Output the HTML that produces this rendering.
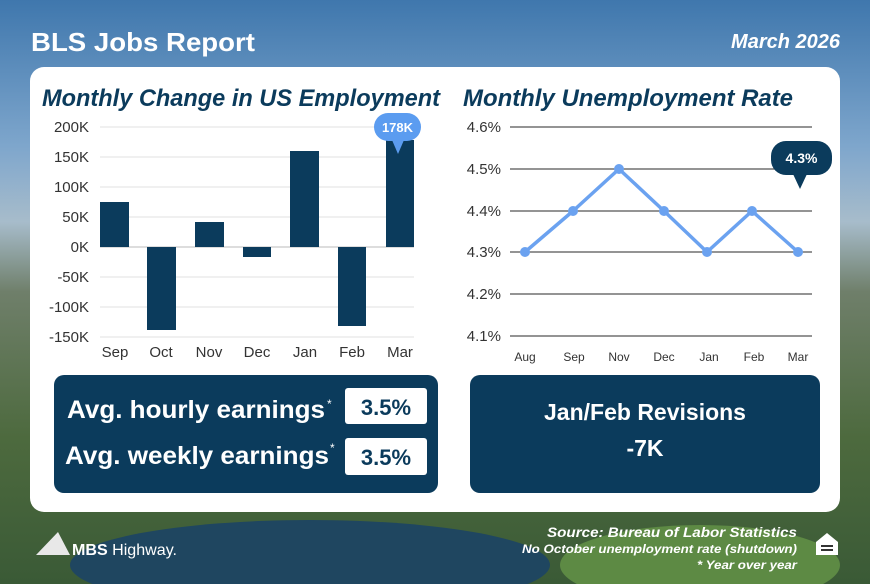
<!DOCTYPE html>
<html><head><meta charset="utf-8"><style>
html,body{margin:0;padding:0;width:870px;height:584px;overflow:hidden}
svg{display:block}
text{font-family:"Liberation Sans",sans-serif}
</style></head><body>
<svg width="870" height="584" viewBox="0 0 870 584" xmlns="http://www.w3.org/2000/svg">
<defs>
<linearGradient id="bg" x1="0" y1="0" x2="0" y2="1">
<stop offset="0" stop-color="#3f77ad"/>
<stop offset="0.25" stop-color="#7ea6cc"/>
<stop offset="0.38" stop-color="#a7bccb"/>
<stop offset="0.5" stop-color="#6f7f6a"/>
<stop offset="0.75" stop-color="#4d6a3e"/>
<stop offset="1" stop-color="#3a5a36"/>
</linearGradient>
</defs>
<rect width="870" height="584" fill="url(#bg)"/>
<ellipse cx="310" cy="565" rx="240" ry="45" fill="#1f4660"/>
<ellipse cx="700" cy="565" rx="140" ry="40" fill="#5d8a44"/>
<text x="31" y="51" font-size="26" font-weight="bold" fill="#fff" textLength="224" lengthAdjust="spacingAndGlyphs">BLS Jobs Report</text>
<text x="840" y="48" font-size="20" font-weight="bold" font-style="italic" fill="#fff" text-anchor="end">March 2026</text>
<rect x="30" y="67" width="810" height="445" rx="14" fill="#fff"/>
<text x="42" y="106" font-size="24" font-weight="bold" font-style="italic" fill="#0b3b5c" textLength="398" lengthAdjust="spacingAndGlyphs">Monthly Change in US Employment</text>
<text x="463" y="106" font-size="24" font-weight="bold" font-style="italic" fill="#0b3b5c" textLength="330" lengthAdjust="spacingAndGlyphs">Monthly Unemployment Rate</text>
<g stroke="#e2e2e2" stroke-width="1">
<line x1="100" y1="127" x2="414" y2="127"/><line x1="100" y1="157" x2="414" y2="157"/><line x1="100" y1="187" x2="414" y2="187"/><line x1="100" y1="217" x2="414" y2="217"/><line x1="100" y1="277" x2="414" y2="277"/><line x1="100" y1="307" x2="414" y2="307"/><line x1="100" y1="337" x2="414" y2="337"/>
</g>
<line x1="100" y1="247" x2="414" y2="247" stroke="#bbb"/>
<g font-size="15" fill="#333" text-anchor="end">
<text x="89" y="132">200K</text><text x="89" y="162">150K</text><text x="89" y="192">100K</text><text x="89" y="222">50K</text><text x="89" y="252">0K</text><text x="89" y="282">-50K</text><text x="89" y="312">-100K</text><text x="89" y="342">-150K</text>
</g>
<g fill="#0b3b5c">
<rect x="100" y="202" width="29" height="45"/>
<rect x="147" y="247" width="29" height="83"/>
<rect x="195" y="222" width="29" height="25"/>
<rect x="243" y="247" width="28" height="10"/>
<rect x="290" y="151" width="29" height="96"/>
<rect x="338" y="247" width="28" height="79"/>
<rect x="386" y="140" width="28" height="107"/>
</g>
<rect x="374" y="113" width="47" height="28" rx="14" fill="#5b9cf0"/>
<path d="M392 140 L398 154 L404 140Z" fill="#5b9cf0"/>
<text x="397.5" y="132" font-size="13" font-weight="bold" fill="#fff" text-anchor="middle">178K</text>
<g font-size="15" fill="#333" text-anchor="middle">
<text x="115" y="357">Sep</text><text x="161" y="357">Oct</text><text x="209" y="357">Nov</text><text x="257" y="357">Dec</text><text x="305" y="357">Jan</text><text x="352" y="357">Feb</text><text x="400" y="357">Mar</text>
</g>
<g stroke="#555" stroke-width="1.2">
<line x1="510" y1="127" x2="812" y2="127"/><line x1="510" y1="169" x2="812" y2="169"/><line x1="510" y1="211" x2="812" y2="211"/><line x1="510" y1="252" x2="812" y2="252"/><line x1="510" y1="294" x2="812" y2="294"/><line x1="510" y1="336" x2="812" y2="336"/>
</g>
<g font-size="15" fill="#333" text-anchor="end">
<text x="501" y="132">4.6%</text><text x="501" y="174">4.5%</text><text x="501" y="216">4.4%</text><text x="501" y="257">4.3%</text><text x="501" y="299">4.2%</text><text x="501" y="341">4.1%</text>
</g>
<polyline points="525,252 573,211 619,169 664,211 707,252 752,211 798,252" fill="none" stroke="#6ba2f0" stroke-width="3.5" stroke-linejoin="round"/>
<g fill="#6ba2f0">
<circle cx="525" cy="252" r="5"/><circle cx="573" cy="211" r="5"/><circle cx="619" cy="169" r="5"/><circle cx="664" cy="211" r="5"/><circle cx="707" cy="252" r="5"/><circle cx="752" cy="211" r="5"/><circle cx="798" cy="252" r="5"/>
</g>
<rect x="771" y="141" width="61" height="34" rx="15" fill="#0b3b5c"/>
<path d="M793 174 L800 189 L807 174Z" fill="#0b3b5c"/>
<text x="801.5" y="163" font-size="14" font-weight="bold" fill="#fff" text-anchor="middle">4.3%</text>
<g font-size="12" fill="#333" text-anchor="middle">
<text x="525" y="361">Aug</text><text x="574" y="361">Sep</text><text x="619" y="361">Nov</text><text x="664" y="361">Dec</text><text x="709" y="361">Jan</text><text x="754" y="361">Feb</text><text x="798" y="361">Mar</text>
</g>
<rect x="54" y="375" width="384" height="118" rx="10" fill="#0b3b5c"/>
<text x="67" y="418" font-size="25" font-weight="bold" fill="#fff" textLength="258" lengthAdjust="spacingAndGlyphs">Avg. hourly earnings</text>
<text x="327" y="408" font-size="12" fill="#fff">*</text>
<text x="65" y="464" font-size="25" font-weight="bold" fill="#fff" textLength="264" lengthAdjust="spacingAndGlyphs">Avg. weekly earnings</text>
<text x="330" y="452" font-size="12" fill="#fff">*</text>
<rect x="345" y="388" width="82" height="36" rx="3" fill="#fff"/>
<rect x="345" y="438" width="82" height="37" rx="3" fill="#fff"/>
<text x="386" y="415" font-size="22" font-weight="bold" fill="#0b3b5c" text-anchor="middle">3.5%</text>
<text x="386" y="465" font-size="22" font-weight="bold" fill="#0b3b5c" text-anchor="middle">3.5%</text>
<rect x="470" y="375" width="350" height="118" rx="10" fill="#0b3b5c"/>
<text x="645" y="420" font-size="23" font-weight="bold" fill="#fff" text-anchor="middle">Jan/Feb Revisions</text>
<text x="645" y="456" font-size="23" font-weight="bold" fill="#fff" text-anchor="middle">-7K</text>
<path d="M36 555 L58 532 L70 555Z" fill="#e8e8e8"/>
<text x="72" y="555" font-size="16" fill="#fff" textLength="105" lengthAdjust="spacingAndGlyphs"><tspan font-weight="bold">MBS</tspan> Highway.</text>
<g font-weight="bold" font-style="italic" fill="#fff" text-anchor="end">
<text x="797" y="537" font-size="14" textLength="250" lengthAdjust="spacingAndGlyphs">Source: Bureau of Labor Statistics</text>
<text x="797" y="553" font-size="12" textLength="275" lengthAdjust="spacingAndGlyphs">No October unemployment rate (shutdown)</text>
<text x="797" y="569" font-size="12" textLength="100" lengthAdjust="spacingAndGlyphs">* Year over year</text>
</g>
<path d="M816 542 L827 533 L838 542 L838 555 L816 555Z" fill="#fff"/>
<rect x="821" y="545" width="12" height="2" fill="#333"/><rect x="821" y="549" width="12" height="2" fill="#333"/>
</svg>
</body></html>
